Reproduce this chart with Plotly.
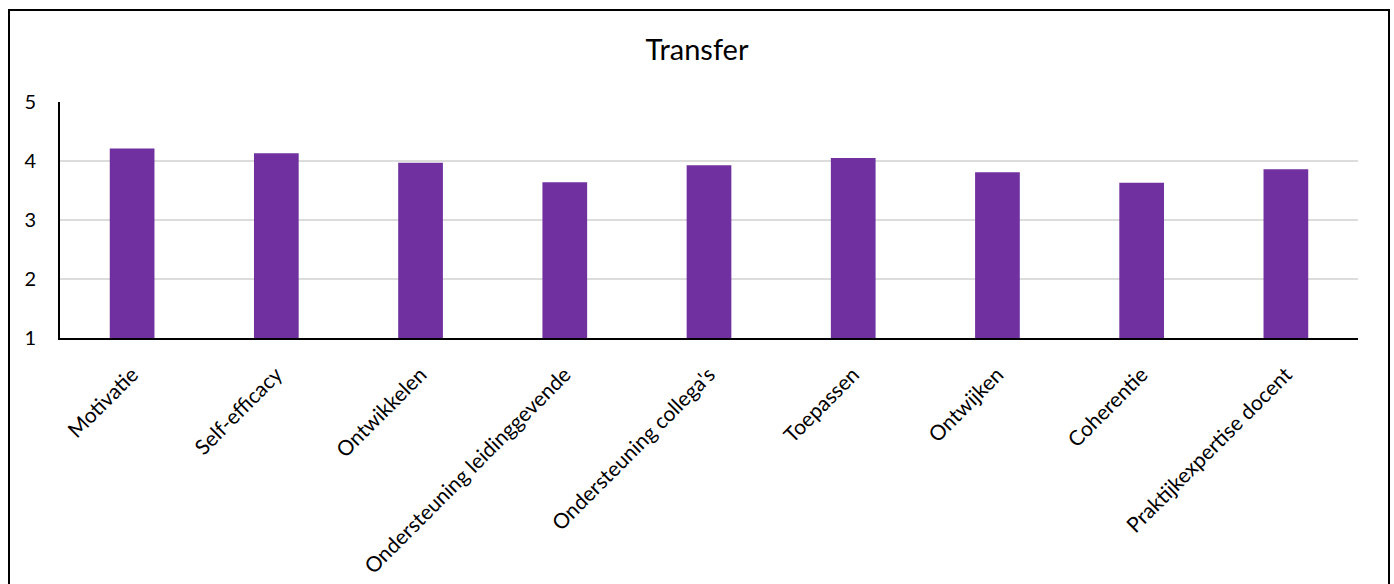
import plotly.graph_objects as go

categories = ["Motivatie", "Self-efficacy", "Ontwikkelen", "Ondersteuning leidinggevende",
              "Ondersteuning collega's", "Toepassen", "Ontwijken", "Coherentie",
              "Praktijkexpertise docent"]
values = [4.21, 4.13, 3.97, 3.64, 3.93, 4.05, 3.81, 3.63, 3.86]
y_ticks = [1, 2, 3, 4, 5]

W, H = 1394, 584
L, R, T, B = 60, 36, 102, 246
pw, ph = W - L - R, H - T - B
FONT = "Lato, Open Sans, sans-serif"

fig = go.Figure(go.Bar(x=categories, y=values, marker_color="#7030A0",
                       marker_line_width=0, width=0.31))

def px_to_paper_x(px):
    return (px - L) / pw

def py_to_paper_y(py):
    return (H - B - py) / ph

fig.add_shape(type="rect", xref="paper", yref="paper",
              x0=px_to_paper_x(9), x1=px_to_paper_x(1389),
              y0=py_to_paper_y(600), y1=py_to_paper_y(10),
              line=dict(color="black", width=2), fillcolor="rgba(0,0,0,0)", layer="below")

fig.update_layout(
    width=W, height=H,
    margin=dict(l=L, r=R, t=T, b=B, autoexpand=False),
    paper_bgcolor="white", plot_bgcolor="white",
    title=dict(text="Transfer", x=0.5, xanchor="center", y=1 - 50 / H, yanchor="middle",
               font=dict(family=FONT, size=29, color="black")),
    font=dict(family=FONT, size=20, color="black"),
    showlegend=False,
)
fig.update_xaxes(tickangle=-45, showline=True, linecolor="black", linewidth=2,
                 showgrid=False, ticks="outside", ticklen=14, tickcolor="rgba(0,0,0,0)",
                 tickfont=dict(size=21), automargin=False)
fig.update_yaxes(range=[1, 5], tickvals=y_ticks, showline=True, linecolor="black", linewidth=2,
                 showgrid=True, gridcolor="#dcdcdc", gridwidth=2, zeroline=False,
                 ticks="outside", ticklen=18, tickcolor="rgba(0,0,0,0)",
                 tickfont=dict(size=20), automargin=False)

fig.write_html("out.html", config={"displayModeBar": False},
               post_script="document.body.style.margin='0';")
